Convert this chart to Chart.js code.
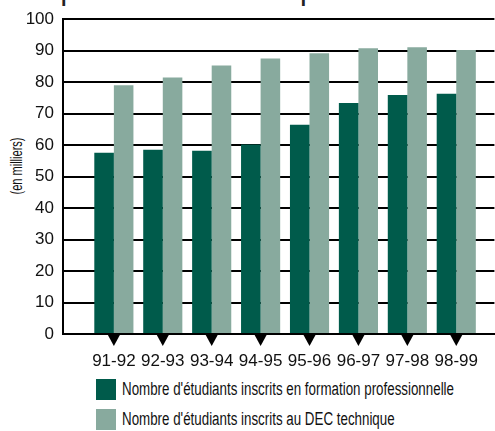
<!DOCTYPE html>
<html>
<head>
<meta charset="utf-8">
<script src="https://cdn.jsdelivr.net/npm/chart.js@4"></script>
<style>
  body { margin: 0; background: #fff; font-family: "Liberation Sans", sans-serif; }
  #wrap { position: relative; width: 495px; height: 431px; overflow: hidden; }
  #chart { position: absolute; left: 0; top: 0; }
  #title { position: absolute; left: 61px; top: -23px; font-weight: bold; font-size: 28px; line-height: 28px; color: #222; white-space: nowrap; transform-origin: 0 0; }
  #ytitle { position: absolute; font-size: 16px; line-height: 16px; color: #111; white-space: nowrap; }
  .leg { position: absolute; left: 96px; height: 21px; line-height: 21px; font-size: 18px; color: #111; white-space: nowrap; }
  .leg span.box { display: inline-block; width: 20px; height: 21px; vertical-align: top; margin-right: 6px; }
  .leg span.txt { display: inline-block; transform-origin: 0 50%; }
</style>
</head>
<body>
<div id="wrap">
  <div id="title">professionnelle et technique</div>
  <div id="ytitle">(en milliers)</div>
  <canvas id="chart" width="495" height="375"></canvas>
  <div class="leg" style="top:379px"><span class="box" style="background:#005b4b"></span><span class="txt">Nombre d'étudiants inscrits en formation professionnelle</span></div>
  <div class="leg" style="top:409px"><span class="box" style="background:#88aa9e"></span><span class="txt">Nombre d'étudiants inscrits au DEC technique</span></div>
</div>
<script>
const years = ["91-92", "92-93", "93-94", "94-95", "95-96", "96-97", "97-98", "98-99"];
const profValues = [57.6, 58.5, 58.2, 60.2, 66.5, 73.4, 75.9, 76.3];
const techValues = [79.0, 81.5, 85.3, 87.5, 89.2, 90.8, 91.1, 90.2];
const yTicks = [0, 10, 20, 30, 40, 50, 60, 70, 80, 90, 100];

const darkGreen = "#005b4b";
const lightGreen = "#88aa9e";
const tickFont = { family: "Liberation Sans", size: 17 };

// the original uses a condensed face, squeeze the html text to its widths
function textWidth(text, font) {
  const m = document.createElement("canvas").getContext("2d");
  m.font = font;
  return m.measureText(text).width;
}

const legTexts = document.querySelectorAll(".leg .txt");
const squeeze = 332 / textWidth(legTexts[0].textContent, "18px Liberation Sans");
legTexts.forEach((el) => (el.style.transform = "scaleX(" + squeeze + ")"));

const title = document.getElementById("title");
const titleSqueeze = 233 / textWidth("professionnelle et techni", "bold 28px Liberation Sans");
title.style.transform = "scaleX(" + titleSqueeze + ")";

const ytitle = document.getElementById("ytitle");
const yw = textWidth(ytitle.textContent, "16px Liberation Sans");
ytitle.style.left = 17 - yw / 2 + "px";
ytitle.style.top = 166 - 8 + "px";
ytitle.style.transform = "rotate(-90deg) scaleX(" + 57 / yw + ")";

// little black triangles under each year
const markers = {
  id: "markers",
  afterDraw(chart) {
    const x = chart.scales.x;
    const c = chart.ctx;
    const bottom = chart.chartArea.bottom;
    c.save();
    c.fillStyle = "#000";
    x.ticks.forEach((t) => {
      const px = x.getPixelForValue(t.value);
      c.beginPath();
      c.moveTo(px - 6, bottom + 1);
      c.lineTo(px + 6, bottom + 1);
      c.lineTo(px, bottom + 12);
      c.closePath();
      c.fill();
    });
    c.restore();
  },
};

const ctx = document.getElementById("chart").getContext("2d");

new Chart(ctx, {
  type: "bar",
  data: {
    datasets: [
      {
        label: "Nombre d'étudiants inscrits en formation professionnelle",
        data: profValues.map((v, i) => ({ x: i + 1, y: v })),
        backgroundColor: darkGreen,
      },
      {
        label: "Nombre d'étudiants inscrits au DEC technique",
        data: techValues.map((v, i) => ({ x: i + 1, y: v })),
        backgroundColor: lightGreen,
      },
    ],
  },
  options: {
    responsive: false,
    animation: false,
    categoryPercentage: 0.8,
    barPercentage: 1,
    layout: { padding: { top: 18, left: 0, right: 0, bottom: 0 } },
    plugins: {
      legend: { display: false },
      tooltip: { enabled: false },
    },
    scales: {
      x: {
        type: "linear",
        offset: false,
        min: -0.04,
        max: 8.78,
        afterBuildTicks: (s) => {
          s.ticks = years.map((y, i) => ({ value: i + 1 }));
        },
        afterFit: (s) => {
          s.height = 41;
        },
        grid: { display: false, drawTicks: false },
        border: { display: true, color: "#000", width: 2 },
        ticks: {
          padding: 17,
          color: "#111",
          font: tickFont,
          callback: (v) => years[v - 1],
        },
      },
      y: {
        min: 0,
        max: 100,
        afterBuildTicks: (s) => {
          s.ticks = yTicks.map((v) => ({ value: v }));
        },
        afterFit: (s) => {
          s.width = 63;
        },
        grid: { color: "#000", lineWidth: 2, drawTicks: false },
        border: { display: true, color: "#000", width: 2 },
        ticks: {
          padding: 9,
          color: "#111",
          font: tickFont,
        },
      },
    },
  },
  plugins: [markers],
});
</script>
</body>
</html>
